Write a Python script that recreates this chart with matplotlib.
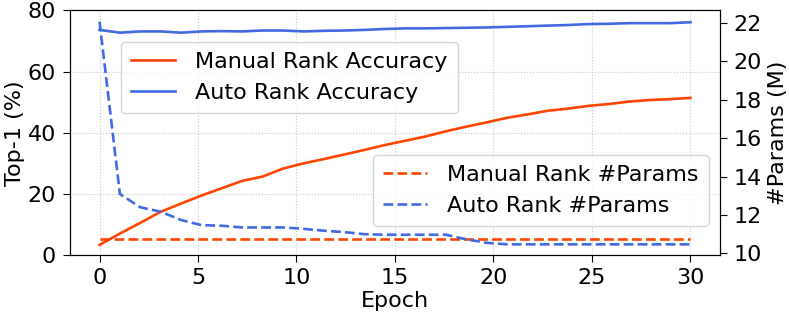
import matplotlib
matplotlib.use("Agg")
import matplotlib.pyplot as plt
import numpy as np

# 30 logged points spread over epochs 0..30
epochs = np.linspace(0, 30, 30)

manual_acc = [3.4, 7.1, 10.6, 14.2, 16.9, 19.5, 21.9, 24.3, 25.7, 28.3,
              30.0, 31.4, 32.9, 34.4, 36.0, 37.4, 38.8, 40.5, 42.0, 43.4,
              44.9, 46.0, 47.2, 47.9, 48.8, 49.4, 50.2, 50.7, 51.0, 51.4]
auto_acc = [73.6, 72.7, 73.1, 73.1, 72.7, 73.1, 73.2, 73.1, 73.4, 73.4,
            73.1, 73.3, 73.4, 73.6, 73.9, 74.1, 74.1, 74.2, 74.3, 74.4,
            74.6, 74.8, 75.0, 75.2, 75.5, 75.6, 75.8, 75.8, 75.8, 76.1]
manual_params = [10.76] * 30
auto_params = [22.07, 13.09, 12.40, 12.17, 11.74, 11.47, 11.44, 11.35, 11.35, 11.35,
               11.28, 11.18, 11.11, 11.00, 10.97, 10.97, 10.97, 10.97, 10.73, 10.55,
               10.47, 10.47, 10.47, 10.47, 10.47, 10.47, 10.47, 10.47, 10.47, 10.47]

C_MAN = "orangered"
C_AUTO = "royalblue"
FS = 16

fig = plt.figure(figsize=(7.89, 3.19), dpi=100)
ax1 = fig.add_axes([0.0887, 0.1997, 0.8238, 0.768])
ax2 = ax1.twinx()

l1, = ax1.plot(epochs, manual_acc, color=C_MAN, lw=1.9, label="Manual Rank Accuracy")
l2, = ax1.plot(epochs, auto_acc, color=C_AUTO, lw=1.9, label="Auto Rank Accuracy")
l3, = ax2.plot(epochs, manual_params, color=C_MAN, lw=1.9, ls="--", label="Manual Rank #Params")
l4, = ax2.plot(epochs, auto_params, color=C_AUTO, lw=1.9, ls="--", label="Auto Rank #Params")

ax1.set_xlim(-1.5, 31.5)
ax1.set_ylim(0, 80)
ax2.set_ylim(9.9, 22.66)
ax1.set_xticks([0, 5, 10, 15, 20, 25, 30])
ax1.set_yticks([0, 20, 40, 60, 80])
ax2.set_yticks([10, 12, 14, 16, 18, 20, 22])

ax1.grid(True, ls=":", color="#c8c8c8", lw=0.8)
ax1.tick_params(axis="x", labelsize=FS, length=5, pad=4)
ax1.tick_params(axis="y", labelsize=FS, length=5, pad=5)
ax2.tick_params(axis="y", labelsize=FS, length=5, pad=5)

ax1.set_xlabel("Epoch", fontsize=FS, labelpad=2)
ax1.set_ylabel("Top-1 (%)", fontsize=FS, labelpad=2)
ax2.set_ylabel("#Params (M)", fontsize=FS, labelpad=4)

leg_kw = dict(borderaxespad=0, fontsize=FS, handletextpad=0.9,
              labelspacing=0.5, borderpad=0.45)
ax1.legend(handles=[l1, l2], loc="upper left", bbox_to_anchor=(0.078, 0.871), **leg_kw)
ax2.legend(handles=[l3, l4], loc="lower right", bbox_to_anchor=(0.983, 0.12), **leg_kw)

plt.savefig("out.png", dpi=100, facecolor="white")
